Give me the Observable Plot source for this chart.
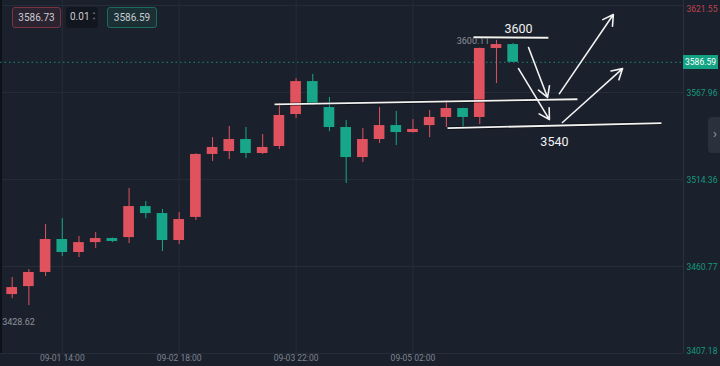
<!DOCTYPE html>
<html><head><meta charset="utf-8">
<script src="https://cdn.jsdelivr.net/npm/d3@7"></script>
<script src="https://cdn.jsdelivr.net/npm/@observablehq/plot@0.6"></script>
<style>
html,body{margin:0;padding:0;background:#1b212c;}
#wrap{position:relative;width:720px;height:366px;overflow:hidden;font-family:Roboto,"Noto Sans",sans-serif;background:#1b212c;}
#wrap svg{display:block;}
.box{position:absolute;top:7px;height:21px;box-sizing:border-box;border-radius:3px;font-size:10px;line-height:19px;text-align:center;color:#c9ccd2;}
</style></head><body><div id="wrap"></div>
<script>
// Candles (4h), left to right
const opens  = [3443.5,3448.4,3457.1,3477.4,3469.4,3475.5,3478.0,3478.6,3497.7,3493.4,3476.8,3491.0,3529.8,3531.6,3539.0,3530.4,3534.7,3554.4,3574.7,3558.7,3546.4,3527.9,3539.0,3547.6,3543.3,3547.6,3552.6,3558.1,3552.6,3595.1,3597.5];
const highs  = [3454.0,3458.9,3486.6,3490.3,3479.2,3481.7,3478.3,3508.8,3500.8,3495.9,3494.0,3530.2,3540.2,3547.0,3546.4,3542.1,3561.2,3576.6,3579.1,3564.9,3550.7,3545.8,3558.7,3556.3,3551.3,3556.9,3563.0,3558.3,3595.3,3600.11,3598.2];
const lows   = [3441.0,3436.7,3454.6,3466.9,3466.3,3471.9,3475.5,3474.9,3490.3,3470.0,3474.3,3489.1,3525.5,3526.7,3527.3,3529.8,3532.8,3551.9,3560.0,3543.9,3511.9,3524.8,3536.5,3535.3,3543.0,3540.2,3546.4,3546.4,3548.2,3573.5,3586.59];
const closes = [3447.8,3457.1,3477.4,3469.4,3475.5,3478.0,3476.2,3497.7,3493.4,3476.8,3489.7,3529.8,3534.1,3539.0,3530.4,3534.1,3553.8,3574.7,3560.6,3546.4,3527.9,3539.0,3547.6,3543.3,3545.2,3552.6,3558.1,3552.6,3595.1,3597.5,3586.59];

// Axes
const xTickIndex  = [3, 10, 17, 24];
const xTickLabels = ["09-01 14:00", "09-02 18:00", "09-03 22:00", "09-05 02:00"];
const yTicks = [3621.55, 3567.96, 3514.36, 3460.77, 3407.18];
const lastPrice = 3586.59;
const askPrice = 3586.73;
const stepSize = "0.01";
const visibleHigh = 3600.11, visibleHighIndex = 29;
const visibleLow = 3428.62, visibleLowIndex = 0;

// Hand-drawn annotations (candle index, price)
const annoLines = [
  {x1: 15.71, y1: 3560.6, x2: 33.85, y2: 3563.8},
  {x1: 26.07, y1: 3546.0, x2: 38.88, y2: 3549.1},
  {x1: 27.62, y1: 3602.0, x2: 32.11, y2: 3601.7}
];
const annoArrows = [
  {x1: 30.92, y1: 3595.7, x2: 32.06, y2: 3564.9},
  {x1: 30.32, y1: 3582.7, x2: 32.17, y2: 3551.3},
  {x1: 32.77, y1: 3567.3, x2: 36.00, y2: 3616.0},
  {x1: 32.95, y1: 3549.5, x2: 36.55, y2: 3582.7}
];
const annoTexts = [
  {x: 30.32, y: 3606.8, text: "3600"},
  {x: 32.47, y: 3537.2, text: "3540"}
];

const UP = "#e0525e", DOWN = "#17a689";
const candles = opens.map((o, i) => ({i, open: o, high: highs[i], low: lows[i], close: closes[i]}));
const col = d => d.close >= d.open ? UP : DOWN;
const xDomain = [-0.7, 40.2];
const yDomain = [3407.18, 3624.65];
const grid = "#262d39";
const yLab = d => d > lastPrice ? "#bf4250" : "#14977c";

const chart = Plot.plot({
  width: 720, height: 366,
  marginLeft: 0, marginRight: 37, marginTop: 0, marginBottom: 13,
  style: {background: "#1b212c", fontFamily: "Roboto, 'Noto Sans', sans-serif", overflow: "visible"},
  x: {domain: xDomain, axis: null},
  y: {domain: yDomain, axis: null},
  marks: [
    Plot.ruleY(yTicks, {stroke: grid}),
    Plot.ruleX(xTickIndex, {stroke: grid}),
    Plot.ruleX([xDomain[1]], {stroke: "#2b323e"}),
    Plot.ruleX([xDomain[0]], {stroke: "#0e1118", strokeWidth: 3}),
    Plot.ruleY([lastPrice], {stroke: "#1a9a80", strokeDasharray: "1.5,3", strokeOpacity: 0.9}),
    Plot.ruleX(candles, {x: "i", y1: "low", y2: "high", stroke: col, strokeWidth: 1}),
    Plot.rect(candles, {x1: d => d.i - 0.32, x2: d => d.i + 0.32,
      y1: d => Math.min(d.open, d.close), y2: d => Math.max(d.open, d.close), fill: col}),
    Plot.text([visibleHigh], {x: visibleHighIndex, y: d => d, text: d => d.toFixed(2), dx: -7, dy: 1, textAnchor: "end", fill: "#8c919b", fontSize: 9}),
    Plot.text([visibleLow], {x: visibleLowIndex, y: d => d, text: d => d.toFixed(2), dx: -10, dy: 3, textAnchor: "start", fill: "#8c919b", fontSize: 9}),
    Plot.link(annoLines, {x1: "x1", y1: "y1", x2: "x2", y2: "y2", stroke: "#000", strokeWidth: 3.6, strokeOpacity: 0.45}),
    Plot.link(annoLines, {x1: "x1", y1: "y1", x2: "x2", y2: "y2", stroke: "#f2f2f2", strokeWidth: 1.8}),
    Plot.arrow(annoArrows, {x1: "x1", y1: "y1", x2: "x2", y2: "y2", bend: 0, stroke: "#f2f2f2", strokeWidth: 1.6, headLength: 11}),
    Plot.text(annoTexts, {x: "x", y: "y", text: "text", fill: "#f2f2f2", fontSize: 12.5}),
    // y labels on the right
    Plot.text(yTicks.filter((d, k) => k === 0), {y: d => d, frameAnchor: "right", dx: 3, textAnchor: "start", lineAnchor: "top", text: d => d.toFixed(2), fill: yLab, fontSize: 8.5}),
    Plot.text(yTicks.filter((d, k) => k > 0 && k < yTicks.length - 1), {y: d => d, frameAnchor: "right", dx: 3, dy: 1, textAnchor: "start", text: d => d.toFixed(2), fill: yLab, fontSize: 8.5}),
    Plot.text(yTicks.filter((d, k) => k === yTicks.length - 1), {y: d => d, frameAnchor: "right", dx: 3, textAnchor: "start", lineAnchor: "bottom", text: d => d.toFixed(2), fill: yLab, fontSize: 8.5}),
    // x labels
    Plot.text(xTickIndex, {x: d => d, frameAnchor: "bottom", lineAnchor: "top", dy: 1, text: (d, k) => xTickLabels[k], fill: "#7d8390", fontSize: 8.5})
  ]
});
const wrap = document.getElementById("wrap");
wrap.appendChild(chart);

// last price tag on the right axis
const yPos = chart.scale("y").apply(lastPrice);
const tag = document.createElement("div");
tag.textContent = lastPrice.toFixed(2);
tag.style.cssText = `position:absolute;left:683px;top:${yPos - 7}px;width:35px;height:14px;background:#13a384;color:#fff;font-size:8.5px;line-height:14px;text-align:center;`;
wrap.appendChild(tag);

// order boxes at the top
const b1 = document.createElement("div");
b1.className = "box"; b1.textContent = askPrice.toFixed(2);
b1.style.cssText += "left:12px;width:49px;border:1px solid #7a3441;background:#2b2430;";
wrap.appendChild(b1);
const b2 = document.createElement("div");
b2.className = "box";
b2.innerHTML = `<span style="position:absolute;left:4px;">${stepSize}</span><span style="position:absolute;right:2px;top:3px;font-size:4px;line-height:6px;color:#6d7380">▲<br>▼</span>`;
b2.style.cssText += "left:66px;width:32px;background:#12161e;";
wrap.appendChild(b2);
const b3 = document.createElement("div");
b3.className = "box"; b3.textContent = lastPrice.toFixed(2);
b3.style.cssText += "left:107px;width:50px;border:1px solid #1d6b5d;background:#1a3034;";
wrap.appendChild(b3);
// collapse tab
const tab = document.createElement("div");
tab.textContent = "›";
tab.style.cssText = "position:absolute;left:708px;top:117px;width:14px;height:36px;background:#2b313c;border-radius:4px 0 0 4px;color:#9aa0aa;font-size:13px;line-height:34px;text-align:center;";
wrap.appendChild(tab);
</script></body></html>
